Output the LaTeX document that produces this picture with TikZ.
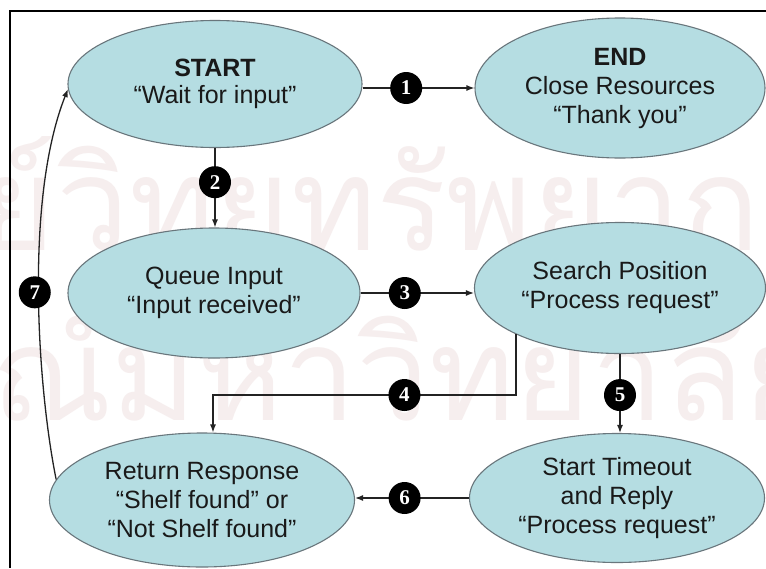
\documentclass[tikz,border=0pt]{standalone}
\usepackage{fontspec}
\setmainfont{Liberation Sans}
\newfontfamily\numfont{Liberation Serif}
\newfontfamily\thaifont[Script=Thai]{Loma}
\usetikzlibrary{shapes.geometric,arrows.meta}

\definecolor{ovalfill}{RGB}{181,221,226}
\definecolor{ovaledge}{RGB}{105,118,124}
\definecolor{wire}{RGB}{35,35,35}
\definecolor{marktone}{RGB}{246,238,238}

\begin{document}
\begin{tikzpicture}[x=1pt,y=-1pt,
  state/.style={ellipse, draw=ovaledge, line width=1.1pt, fill=ovalfill,
    inner sep=0pt, align=center, text=black!90,
    font=\fontsize{25}{29}\selectfont},
  num/.style={circle, fill=black, inner sep=0pt, minimum size=32pt,
    text=white, font=\numfont\bfseries\fontsize{21}{21}\selectfont},
  link/.style={draw=wire, line width=1.3pt, -{Latex[length=8pt,width=6pt]}},
  frameline/.style={draw=black, line width=2pt},
  watermark/.style={text=marktone, inner sep=0pt,
    font=\thaifont\fontsize{130}{130}\selectfont},
]
\useasboundingbox (0,0) rectangle (766,568);
\fill[white] (0,0) rectangle (766,568);

% faint background stamp
\node[watermark, anchor=base east] (wm1) at (830,250) {ศูนย์วิทยทรัพยากร};
\node[watermark, anchor=base east] (wm2) at (820,420) {จุฬาลงกรณ์มหาวิทยาลัย};

% frame (top and left edges)
\draw[frameline] (766,11) -- (10,11) -- (10,568);

% states
\node[state, minimum width=294pt, minimum height=127pt,
      font=\fontsize{25}{27}\selectfont] (start) at (215,84)
  {\textbf{START}\\“Wait for input”};
\node[state, minimum width=290pt, minimum height=140pt] (end) at (620,88)
  {\textbf{END}\\Close Resources\\“Thank you”};
\node[state, minimum width=292pt, minimum height=130pt] (queue) at (214,293)
  {Queue Input\\“Input received”};
\node[state, minimum width=291pt, minimum height=131pt] (search) at (620,288)
  {Search Position\\“Process request”};
\node[state, minimum width=305pt, minimum height=134pt] (ret) at (202,500)
  {Return Response\\“Shelf found” or\\“Not Shelf found”};
\node[state, minimum width=295pt, minimum height=129pt] (timeout) at (617,498)
  {Start Timeout\\and Reply\\“Process request”};

% transitions
\draw[link] (start.east |- end.west) -- node[num, pos=0.39] (n1) {1} (end.west);
\draw[link] (start.south) -- node[num, pos=0.43] (n2) {2} (start.south |- queue.north);
\draw[link] (queue.east) -- node[num, pos=0.39] (n3) {3} (queue.east -| search.west);
\coordinate (bend4) at (213,395);
\draw[link] (search.204) |- node[num, pos=0.684] (n4) {4} (bend4) -- (bend4 |- ret.north);
\draw[link] (search.south) -- node[num, pos=0.52] (n5) {5} (search.south |- timeout.north);
\draw[link] (timeout.west) -- node[num, pos=0.565] (n6) {6} (timeout.west -| ret.east);
\draw[link] (ret.172) .. controls (38,390) and (24,200) ..
  node[num, pos=0.5, xshift=-4pt] (n7) {7} (start.182);
\end{tikzpicture}
\end{document}
